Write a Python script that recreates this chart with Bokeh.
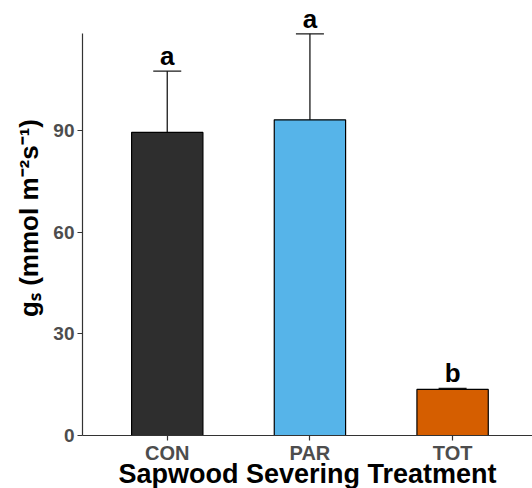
from bokeh.plotting import figure
from bokeh.models import ColumnDataSource, Range1d, FixedTicker, Whisker, TeeHead
from bokeh.core.properties import value
from bokeh.embed import file_html
from bokeh.resources import INLINE

treatments = ["CON", "PAR", "TOT"]
xpos = [1, 2, 3]
means = [89.5, 93.2, 13.6]
lower = [71.5, 67.6, 13.3]
upper = [107.6, 118.6, 13.9]
letters = ["a", "a", "b"]
colors = ["#2e2e2e", "#56B4E9", "#D55E00"]
yticks = [0, 30, 60, 90]
y_axis_top = 118.7

src = ColumnDataSource(dict(x=xpos, top=means, lower=lower, upper=upper,
                            letter=letters, color=colors))

p = figure(frame_width=450, frame_height=435, output_backend="svg", toolbar_location=None,
           x_range=Range1d(0.406, 3.56), y_range=Range1d(0, 128.44),
           min_border_left=82, min_border_right=0, min_border_top=0,
           min_border_bottom=53)
p.outline_line_color = None
p.xgrid.visible = False
p.ygrid.visible = False

p.vbar(x="x", top="top", width=0.5, bottom=0, source=src, fill_color="color",
       line_color="black", line_width=1.2)

w = Whisker(base="x", lower="lower", upper="upper", source=src,
            line_color="#1a1a1a", line_width=1.3,
            upper_head=TeeHead(size=28, line_color="#1a1a1a", line_width=1.3),
            lower_head=TeeHead(size=28, line_color="#1a1a1a", line_width=1.3))
p.add_layout(w)

p.text(x="x", y="upper", text="letter", source=src, text_align="center",
       text_baseline="bottom", y_offset=0, text_font=value("Liberation Sans"),
       text_font_style="bold", text_font_size="26px", text_color="black")

for ax in (p.xaxis[0], p.yaxis[0]):
    ax.axis_line_color = "#333333"
    ax.axis_line_width = 1.2
    ax.major_tick_line_color = "#333333"
    ax.major_tick_line_width = 1.2
    ax.major_tick_out = 5
    ax.major_tick_in = 0
    ax.minor_tick_line_color = None
    ax.major_label_text_font = "Liberation Sans"
    ax.major_label_text_font_style = "bold"
    ax.major_label_text_color = "#4d4d4d"
    ax.axis_label_text_font = "Liberation Sans"
    ax.axis_label_text_font_style = "bold"
    ax.axis_label_text_color = "black"

p.xaxis.ticker = FixedTicker(ticks=xpos)
p.xaxis.major_label_overrides = {x: t for x, t in zip(xpos, treatments)}
p.xaxis.major_label_text_font_size = "20px"
p.xaxis.major_label_standoff = 1
p.xaxis.axis_label = "Sapwood Severing Treatment"
p.xaxis.axis_label_text_font_size = "27px"
p.xaxis.axis_label_standoff = -8

p.yaxis.bounds = (0, y_axis_top)
p.yaxis.ticker = FixedTicker(ticks=yticks)
p.yaxis.major_label_text_font_size = "19px"
p.yaxis.major_label_standoff = 3
p.yaxis.axis_label = "gₛ (mmol m⁻²s⁻¹)"
p.yaxis.axis_label_text_font_size = "26px"
p.yaxis.axis_label_standoff = 6

open("out.html", "w").write(file_html(p, INLINE))
